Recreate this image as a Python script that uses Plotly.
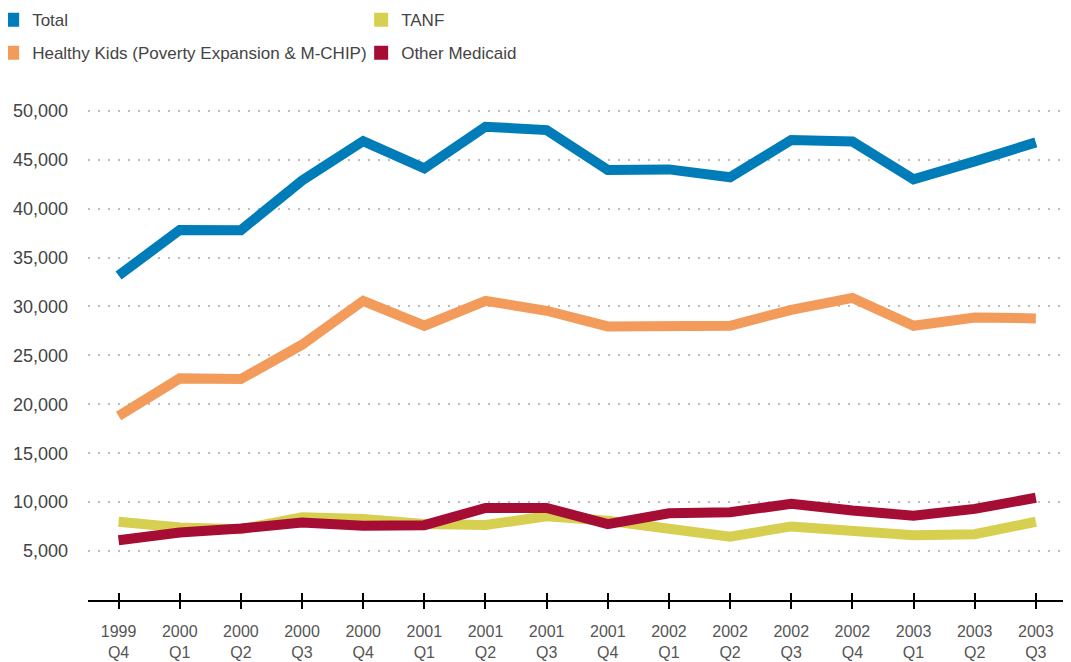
import plotly.graph_objects as go

# quarters on the x axis
quarters = ["1999<br>Q4", "2000<br>Q1", "2000<br>Q2", "2000<br>Q3", "2000<br>Q4",
            "2001<br>Q1", "2001<br>Q2", "2001<br>Q3", "2001<br>Q4",
            "2002<br>Q1", "2002<br>Q2", "2002<br>Q3", "2002<br>Q4",
            "2003<br>Q1", "2003<br>Q2", "2003<br>Q3"]

total = [33160, 37820, 37800, 42860, 46900, 44120, 48370, 48030,
         43950, 44010, 43200, 47010, 46870, 42990, 44830, 46770]
healthy_kids = [18810, 22650, 22580, 26090, 30580, 28030, 30580, 29560,
                27960, 27960, 28030, 29660, 30880, 28030, 28880, 28780]
tanf = [8000, 7410, 7240, 8450, 8280, 7760, 7660, 8550,
        8100, 7410, 6480, 7520, 7070, 6620, 6720, 8000]
other_medicaid = [6100, 6900, 7310, 7930, 7590, 7650, 9410, 9410,
                  7760, 8860, 8970, 9830, 9140, 8620, 9310, 10450]

y_ticks = [5000, 10000, 15000, 20000, 25000, 30000, 35000, 40000, 45000, 50000]

BLUE = "#007db8"
ORANGE = "#f29b5a"
YELLOW = "#d7cf50"
CRIMSON = "#a50d35"
FONT = "Liberation Sans"

x = list(range(len(quarters)))

fig = go.Figure()

# draw order: lower lines first so red sits over yellow
series = [
    ("TANF", tanf, YELLOW),
    ("Other Medicaid", other_medicaid, CRIMSON),
    ("Healthy Kids (Poverty Expansion & M-CHIP)", healthy_kids, ORANGE),
    ("Total", total, BLUE),
]
for name, vals, color in series:
    fig.add_trace(go.Scatter(x=x, y=vals, name=name, mode="lines",
                             line=dict(color=color, width=10),
                             showlegend=False))

# legend entries with square swatches, split over two legends (two rows)
legend_items = [
    ("Total", BLUE, "legend"),
    ("TANF", YELLOW, "legend"),
    ("Healthy Kids (Poverty Expansion & M-CHIP)", ORANGE, "legend2"),
    ("Other Medicaid", CRIMSON, "legend2"),
]
for name, color, leg in legend_items:
    fig.add_trace(go.Scatter(x=[None], y=[None], name=name, mode="markers",
                             marker=dict(symbol="square", size=14, color=color),
                             legend=leg))

# second x axis only to get the tick marks crossing the axis line
fig.add_trace(go.Scatter(x=[None], y=[None], xaxis="x2", showlegend=False))

# page body has an 8px margin, so the figure is 8px smaller than the window
W, H = 1063, 654
plot_w = W - 80 - 5
x_range = [-0.5, -0.5 + plot_w / 61.15]

legend_style = dict(orientation="h", xanchor="left", yanchor="top",
                    font=dict(family=FONT, size=17, color="#444444"),
                    entrywidth=324, bgcolor="rgba(0,0,0,0)",
                    itemclick=False)

fig.update_layout(
    width=W, height=H,
    margin=dict(l=80, r=5, t=93, b=62, autoexpand=False),
    paper_bgcolor="white", plot_bgcolor="white",
    font=dict(family=FONT, color="#444444"),
    legend=dict(legend_style, x=-0.098, y=1.198),
    legend2=dict(legend_style, x=-0.098, y=1.132),
    xaxis=dict(
        range=x_range, tickmode="array", tickvals=x, ticktext=quarters,
        showgrid=False, zeroline=False,
        showline=True, linecolor="black", linewidth=2,
        ticks="outside", ticklen=7, tickwidth=2, tickcolor="black",
        tickfont=dict(family=FONT, size=16, color="#555555"),
        ticklabelstandoff=9,
    ),
    xaxis2=dict(
        range=x_range, tickmode="array", tickvals=x, overlaying="x",
        anchor="y", side="bottom", showticklabels=False,
        showgrid=False, zeroline=False, showline=False,
        ticks="inside", ticklen=7, tickwidth=2, tickcolor="black",
    ),
    yaxis=dict(
        range=[0, 51000], tickmode="array", tickvals=y_ticks,
        tickformat=",d", showline=False, zeroline=False,
        showgrid=True, gridcolor="#bdbdbd", gridwidth=2, griddash="2px,8px",
        tickfont=dict(family=FONT, size=18, color="#444444"),
        ticks="", ticklabelstandoff=19,
    ),
)

fig.write_html("out.html")
